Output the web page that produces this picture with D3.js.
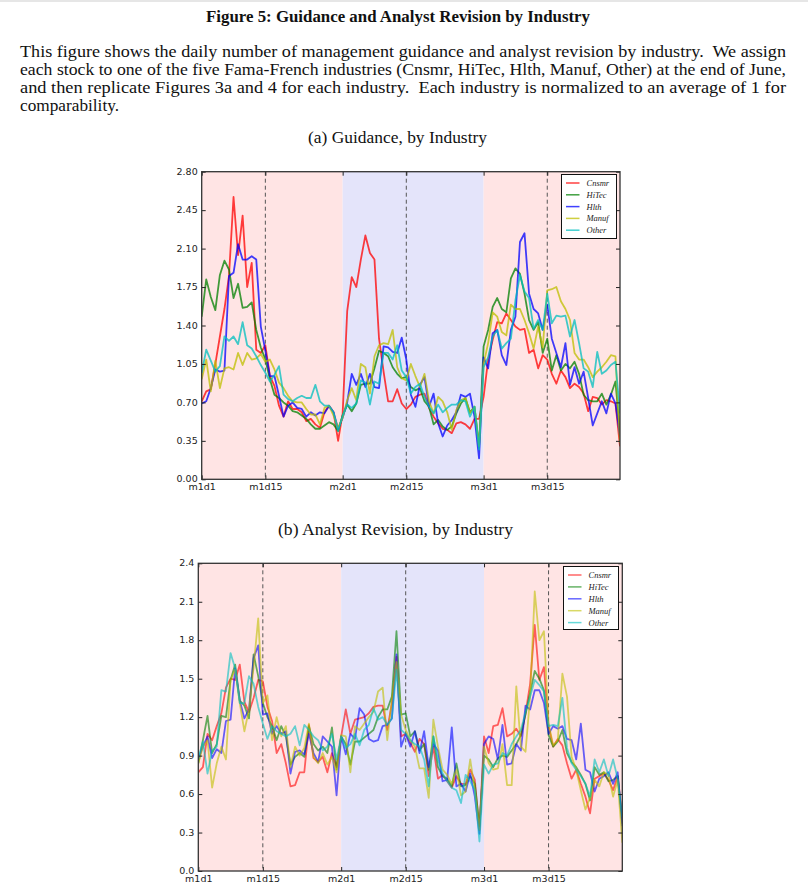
<!DOCTYPE html>
<html><head><meta charset="utf-8">
<script src="https://cdn.jsdelivr.net/npm/d3@7"></script>
<style>body{margin:0;background:#fff;} svg{display:block;}</style>
</head><body><svg id="c" width="808" height="896"></svg>
<script>
// ---------- data ----------
const industries = ["Cnsmr","HiTec","Hlth","Manuf","Other"];
const tickDays = [0,14,31,45,62,76];
const tickLabels = ["m1d1","m1d15","m2d1","m2d15","m3d1","m3d15"];
const monthStarts = [0,31,62];
const lastDay = 92;
const days = d3.range(0, lastDay + 1);
const guidTicks = [0,0.35,0.70,1.05,1.40,1.75,2.10,2.45,2.80];
const revTicks = [0,0.3,0.6,0.9,1.2,1.5,1.8,2.1,2.4];

// (a) Guidance
const guidCnsmr = [0.71,0.80,0.82,1.05,1.30,1.55,1.85,2.57,2.04,2.40,1.75,1.97,1.18,1.15,1.22,0.94,0.85,0.67,0.57,0.71,0.64,0.64,0.61,0.53,0.55,0.50,0.47,0.61,0.67,0.61,0.35,
  0.60,1.53,1.84,1.75,2.00,2.22,2.06,2.00,1.28,0.98,0.71,0.71,0.82,0.69,0.64,0.68,0.75,0.77,0.78,0.65,0.57,0.51,0.46,0.45,0.42,0.51,0.52,0.50,0.46,0.55,0.55,
  0.75,1.09,1.27,1.43,1.42,1.51,1.45,1.39,1.36,1.37,1.15,1.18,1.01,1.13,1.09,0.96,0.87,0.99,0.93,0.83,0.87,0.84,0.78,0.62,0.75,0.74,0.68,0.72,0.71,0.69,0.30];
const guidHiTec = [1.48,1.82,1.66,1.54,1.86,1.99,1.91,1.65,1.78,1.56,1.57,1.61,1.36,1.20,1.09,0.91,0.77,0.74,0.70,0.67,0.62,0.61,0.58,0.55,0.50,0.46,0.46,0.49,0.52,0.50,0.44,
  0.58,0.68,0.62,0.69,0.86,0.87,0.87,1.01,1.17,1.15,1.12,1.02,0.96,0.92,0.93,0.84,0.81,0.83,0.71,0.66,0.50,0.54,0.48,0.45,0.48,0.60,0.69,0.74,0.61,0.66,0.30,
  1.21,1.36,1.57,1.65,1.55,1.52,1.83,1.92,1.87,1.69,1.45,1.36,1.43,1.15,1.28,0.99,1.13,0.99,1.05,1.01,1.07,0.96,0.77,0.72,0.71,0.71,0.78,0.68,0.77,0.89,0.42];
const guidHlth = [0.69,0.71,0.83,1.00,0.98,0.99,1.85,1.88,2.14,2.00,2.00,2.03,2.00,1.39,1.17,0.94,0.94,0.76,0.57,0.67,0.70,0.65,0.64,0.57,0.61,0.58,0.61,0.60,0.67,0.61,0.46,
  0.56,0.70,0.96,0.86,0.96,0.84,0.96,0.84,0.83,1.21,1.20,1.16,1.15,1.29,1.09,0.77,0.66,0.86,0.93,0.66,0.78,0.51,0.39,0.49,0.54,0.61,0.77,0.75,0.78,0.57,0.19,
  1.11,1.01,1.33,1.36,1.13,1.04,1.36,1.48,2.16,2.24,1.69,1.55,1.51,1.36,1.59,1.28,1.15,1.02,1.24,0.86,1.02,0.87,0.98,0.74,0.49,0.60,0.71,0.60,0.78,0.69,0.39];
const guidManuf = [0.91,1.09,0.80,1.08,0.83,1.01,1.02,1.00,1.15,1.04,1.15,1.09,1.10,1.14,1.07,1.09,1.00,0.88,0.83,0.76,0.71,0.70,0.70,0.64,0.59,0.59,0.50,0.65,0.67,0.58,0.47,
  0.56,0.72,0.83,0.72,1.05,1.02,0.78,1.12,1.22,1.24,1.23,1.36,1.02,0.92,0.90,1.05,0.94,0.84,0.96,0.71,0.60,0.75,0.71,0.61,0.45,0.63,0.72,0.74,0.60,0.66,0.30,
  1.05,1.24,1.52,1.48,1.34,1.31,1.59,1.55,1.55,1.45,1.33,1.19,1.39,1.20,1.72,1.73,1.75,1.62,1.55,1.45,1.15,1.09,1.09,1.02,0.93,0.98,1.02,1.07,1.13,1.12,0.33];
const guidOther = [0.97,1.18,1.08,0.98,1.03,1.30,1.26,1.30,1.23,1.43,1.22,1.19,1.12,1.04,0.97,0.89,0.95,1.03,0.77,0.73,0.71,0.74,0.76,0.74,0.74,0.86,0.71,0.67,0.67,0.61,0.44,
  0.58,0.68,0.65,0.69,0.90,0.88,0.68,0.89,0.87,1.15,1.15,1.09,1.22,0.99,0.93,0.78,0.84,0.87,0.75,0.66,0.60,0.68,0.61,0.65,0.68,0.68,0.72,0.71,0.57,0.66,0.27,
  1.02,1.11,1.30,1.36,1.19,1.24,1.28,1.63,1.86,1.71,1.65,1.37,1.45,1.36,1.69,1.42,1.49,1.48,1.49,1.30,1.45,1.24,1.01,0.98,0.84,1.16,0.96,0.99,1.04,1.07,0.60];

// (b) Analyst revision
const revCnsmr = [0.77,0.81,1.07,1.02,1.13,1.23,1.43,1.50,1.49,1.61,1.32,1.24,1.35,1.49,1.48,1.28,1.17,0.92,0.99,0.84,0.66,0.67,0.77,0.77,1.14,0.88,0.85,0.89,0.77,0.92,0.81,
  1.05,1.26,1.07,1.18,1.19,1.20,1.23,1.28,1.29,1.29,1.10,1.31,1.67,1.05,1.07,1.00,0.93,1.03,0.99,0.74,0.97,0.72,0.75,0.70,0.65,0.74,0.68,0.68,0.79,0.71,0.32,
  1.05,0.92,1.13,1.14,1.27,1.05,1.07,1.11,1.05,1.23,1.46,1.92,1.49,1.59,1.13,0.97,1.03,0.98,0.84,0.72,0.79,0.68,0.58,0.45,0.72,0.74,0.76,0.71,0.63,0.74,0.42];
const revHiTec = [0.84,1.02,1.21,0.92,0.99,1.21,1.20,1.49,1.61,1.33,1.29,1.19,1.69,1.52,1.31,1.20,1.13,1.02,1.13,1.05,0.83,0.89,0.92,0.89,1.13,0.99,0.94,0.97,0.92,1.12,0.79,
  1.05,0.99,0.83,1.01,1.01,1.04,1.07,1.10,1.20,1.26,1.26,1.36,1.87,1.22,1.23,1.05,1.09,0.94,0.99,0.79,1.05,0.81,0.74,0.72,0.66,0.84,0.66,0.67,0.74,0.68,0.35,
  0.90,0.87,0.81,0.88,0.90,0.89,0.94,0.99,1.06,1.22,1.39,1.56,1.50,1.41,1.06,0.97,1.01,1.10,0.92,0.85,0.81,0.75,0.68,0.55,0.81,0.75,0.77,0.70,0.71,0.74,0.37];
const revHlth = [0.87,0.97,1.05,0.88,0.95,0.92,1.17,1.18,1.58,1.33,1.19,1.26,1.66,1.76,1.22,1.23,1.07,1.13,1.07,1.09,0.76,0.93,0.94,0.91,1.07,0.92,0.85,1.05,1.01,0.97,0.59,
  1.05,0.91,1.07,1.03,1.27,1.22,1.03,1.01,1.02,1.13,1.14,1.19,1.69,0.97,1.07,0.97,1.09,0.92,1.09,0.81,0.99,0.94,0.70,0.71,1.12,0.66,0.68,0.62,0.76,0.58,0.29,
  0.99,1.05,1.03,0.87,1.14,0.83,0.84,0.99,0.94,1.29,1.26,1.41,1.41,1.31,1.07,1.13,1.11,1.13,1.03,1.02,0.87,1.15,0.79,0.77,0.62,0.72,0.74,0.77,0.68,0.77,0.35];
const revManuf = [0.84,0.97,1.02,0.65,0.84,0.97,0.87,1.49,1.57,1.31,1.09,1.26,1.59,1.97,1.31,1.37,1.02,1.20,1.05,1.13,0.81,0.97,0.90,0.96,1.15,0.89,0.84,0.92,0.83,0.89,0.77,
  1.06,1.05,0.77,1.13,1.10,1.15,1.20,1.24,1.40,1.43,1.02,1.33,1.63,1.22,1.10,1.02,0.97,0.80,0.80,0.57,1.18,0.97,0.79,0.75,0.68,0.79,0.59,0.62,0.87,0.63,0.32,
  0.97,0.84,0.79,0.80,0.99,0.67,0.67,1.44,0.97,0.93,1.36,2.18,1.80,1.87,1.15,0.98,1.02,1.54,1.36,0.89,0.79,0.63,0.48,0.57,0.71,0.66,0.77,0.75,0.58,0.71,0.22];
const revOther = [0.88,1.01,0.76,0.94,0.97,1.41,1.40,1.70,1.58,1.31,1.31,1.52,1.46,1.28,1.15,1.03,1.13,1.09,1.07,1.05,1.07,1.13,0.98,1.14,1.10,1.05,1.02,0.94,0.97,1.07,0.87,
  1.05,0.96,0.99,1.07,0.98,1.10,1.14,1.27,1.18,1.20,1.14,1.19,1.57,1.10,1.07,1.02,0.99,0.97,0.87,0.66,1.05,0.87,0.76,0.70,0.65,0.63,0.53,0.75,0.70,0.63,0.23,
  0.83,0.76,0.83,0.84,0.92,0.90,0.99,1.05,1.10,1.24,1.36,1.49,1.45,1.40,1.13,1.14,1.13,1.35,0.96,0.84,0.79,0.74,0.68,0.58,0.87,0.77,0.87,0.74,0.87,0.72,0.42];

// ---------- styles ----------
const colors = ["#ff0000","#008000","#0000ff","#bfbf00","#00bfbf"];
const spanColors = ["#ffe4e4","#e4e4fa","#ffe4e4"];
const serif = "'Liberation Serif','DejaVu Serif',serif";
const sans = "'DejaVu Sans',sans-serif";

const svg = d3.select("#c");
svg.append("rect").attr("x",0).attr("y",0).attr("width",808).attr("height",2).attr("fill","#e6e6e6");

// ---------- text ----------
svg.append("text").attr("x",206).attr("y",22).attr("textLength",384).attr("lengthAdjust","spacingAndGlyphs")
  .attr("font-family",serif).attr("font-weight","bold").attr("font-size",16).attr("fill","#111")
  .text("Figure 5: Guidance and Analyst Revision by Industry");
const para = [
  ["This figure shows the daily number of management guidance and analyst revision by industry.  We assign", 766],
  ["each stock to one of the five Fama-French industries (Cnsmr, HiTec, Hlth, Manuf, Other) at the end of June,", 766],
  ["and then replicate Figures 3a and 4 for each industry.  Each industry is normalized to an average of 1 for", 766],
  ["comparability.", 99]
];
para.forEach((p,i)=>{
  svg.append("text").attr("x",20).attr("y",57 + i*18).attr("textLength",p[1]).attr("lengthAdjust","spacingAndGlyphs")
    .attr("font-family",serif).attr("font-size",16.5).attr("fill","#111").attr("xml:space","preserve").text(p[0]);
});
svg.append("text").attr("x",308).attr("y",143).attr("textLength",179).attr("lengthAdjust","spacingAndGlyphs")
  .attr("font-family",serif).attr("font-size",16.5).attr("fill","#111").text("(a) Guidance, by Industry");
svg.append("text").attr("x",278).attr("y",535).attr("textLength",235).attr("lengthAdjust","spacingAndGlyphs")
  .attr("font-family",serif).attr("font-size",16.5).attr("fill","#111").text("(b) Analyst Revision, by Industry");

// ---------- chart builder ----------
function chart(cfg){
  const {left,right,top,bottom,ymax,yticks,fmt,series,alpha,legend,id} = cfg;
  const x = d3.scaleLinear().domain([0,lastDay]).range([left,right]);
  const y = d3.scaleLinear().domain([0,ymax]).range([bottom,top]);
  const g = svg.append("g");
  g.append("clipPath").attr("id",id).append("rect").attr("x",left).attr("y",top).attr("width",right-left).attr("height",bottom-top);
  monthStarts.forEach((m,i)=>{
    const end = i<monthStarts.length-1 ? monthStarts[i+1] : lastDay;
    g.append("rect").attr("x",x(m)).attr("y",top).attr("width",x(end)-x(m)).attr("height",bottom-top).attr("fill",spanColors[i]);
  });
  tickDays.filter((d,i)=>i%2===1).forEach(d=>{
    g.append("line").attr("x1",x(d)).attr("x2",x(d)).attr("y1",top).attr("y2",bottom)
      .attr("stroke","#555").attr("stroke-width",1).attr("stroke-dasharray","4,3");
  });
  const line = d3.line().x((d,i)=>x(days[i])).y(d=>y(d));
  const lg = g.append("g").attr("clip-path",`url(#${id})`);
  series.forEach((s,k)=>{
    lg.append("path").datum(s).attr("d",line).attr("fill","none").attr("stroke",colors[k])
      .attr("stroke-width",1.8).attr("stroke-opacity",alpha).attr("stroke-linejoin","round");
  });
  const styleAxis = a => { a.select(".domain").remove(); a.selectAll("line").attr("stroke","#222");
    a.selectAll("text").attr("font-family",sans).attr("font-size",9.5).attr("fill","#222"); };
  const yAx = g.append("g").attr("transform",`translate(${left},0)`).call(d3.axisLeft(y).tickValues(yticks).tickFormat(fmt).tickSize(-4).tickPadding(4)).call(styleAxis);
  yAx.selectAll("text").attr("dy","0.28em");
  g.append("g").attr("transform",`translate(${right},0)`).call(d3.axisRight(y).tickValues(yticks).tickFormat("").tickSize(-4)).call(styleAxis);
  g.append("g").attr("transform",`translate(0,${bottom})`).call(d3.axisBottom(x).tickValues(tickDays).tickFormat((d,i)=>tickLabels[i]).tickSize(-4).tickPadding(4)).call(styleAxis);
  g.append("g").attr("transform",`translate(0,${top})`).call(d3.axisTop(x).tickValues(tickDays).tickFormat("").tickSize(-4)).call(styleAxis);
  g.append("rect").attr("x",left).attr("y",top).attr("width",right-left).attr("height",bottom-top)
    .attr("fill","none").attr("stroke","#333").attr("stroke-width",1.3);
  const L = legend;
  g.append("rect").attr("x",L.x).attr("y",L.y).attr("width",L.w).attr("height",L.h).attr("fill","#fff").attr("stroke","#111").attr("stroke-width",1);
  industries.forEach((name,k)=>{
    const yy = L.y + 8.5 + k*L.step;
    g.append("line").attr("x1",L.x+4.5).attr("x2",L.x+18).attr("y1",yy).attr("y2",yy)
      .attr("stroke",colors[k]).attr("stroke-width",1.5).attr("stroke-opacity",alpha);
    g.append("text").attr("x",L.x+25).attr("y",yy+3).attr("font-family",serif).attr("font-style","italic")
      .attr("font-size",8.5).attr("fill","#222").text(name);
  });
}

chart({id:"ca", left:201.7, right:620, top:171.7, bottom:479.3, ymax:2.8, yticks:guidTicks, fmt:d3.format(".2f"),
  series:[guidCnsmr,guidHiTec,guidHlth,guidManuf,guidOther], alpha:0.75,
  legend:{x:561.5,y:174.5,w:55,h:64,step:11.8}});
chart({id:"cb", left:198.3, right:622.3, top:563.3, bottom:871, ymax:2.4, yticks:revTicks, fmt:d3.format(".1f"),
  series:[revCnsmr,revHiTec,revHlth,revManuf,revOther], alpha:0.6,
  legend:{x:563.5,y:566.5,w:55,h:63,step:11.9}});
</script></body></html>
